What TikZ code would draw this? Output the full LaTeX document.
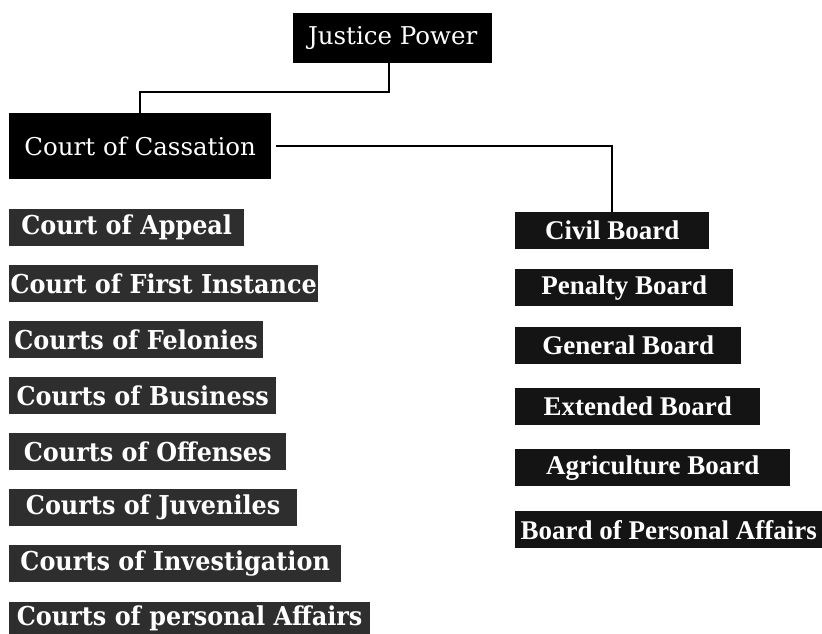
\documentclass[tikz,border=0pt]{standalone}
\usepackage{fontspec}
\newfontfamily\topfont{DejaVu Serif}
\newfontfamily\leftfont[FakeStretch=0.92]{DejaVu Serif Bold}
\newfontfamily\rightfont{Liberation Serif Bold}
\begin{document}
\begin{tikzpicture}[x=1pt,y=-1pt,
  box/.style={anchor=north west,inner sep=0pt,text=white},
  topbox/.style={box,fill=black,font=\topfont\fontsize{24.5}{27}\selectfont},
  lbox/.style={box,fill=black!82,font=\leftfont\fontsize{26}{28}\selectfont,minimum height=37pt},
  rbox/.style={box,fill=black!92,font=\rightfont\fontsize{27}{29}\selectfont,minimum height=37pt},
  conn/.style={line width=1.8pt}]
\useasboundingbox (0,0) rectangle (822,634);
\node[topbox,minimum width=199pt,minimum height=50pt] (jp) at (293,13) {Justice Power};
\node[topbox,minimum width=262pt,minimum height=66pt] (cc) at (9,113) {Court of Cassation};
\node[lbox,minimum width=235pt] (ca)  at (9,209) {Court of Appeal};
\node[lbox,minimum width=309pt] (cfi) at (9,265) {Court of First Instance};
\node[lbox,minimum width=254pt] (cfe) at (9,321) {Courts of Felonies};
\node[lbox,minimum width=267pt] (cbu) at (9,377) {Courts of Business};
\node[lbox,minimum width=277pt] (cof) at (9,433) {Courts of Offenses};
\node[lbox,minimum width=288pt] (cju) at (9,489) {Courts of Juveniles};
\node[lbox,minimum width=332pt] (cin) at (9,545) {Courts of Investigation};
\node[lbox,minimum width=361pt,minimum height=32pt] (cpa) at (9,602) {Courts of personal Affairs};
\node[rbox,minimum width=194pt] (civ) at (515,212) {Civil Board};
\node[rbox,minimum width=218pt] (pen) at (515,269) {Penalty Board};
\node[rbox,minimum width=226pt] (gen) at (515,327) {General Board};
\node[rbox,minimum width=245pt] (ext) at (515,388) {Extended Board};
\node[rbox,minimum width=275pt] (agr) at (515,449) {Agriculture Board};
\node[rbox,minimum width=307pt] (bpa) at (515,511) {Board of Personal Affairs};
\coordinate (mid) at (0,92);
\draw[conn] ([xshift=-4pt]jp.south) -- ([xshift=-4pt]jp.south |- mid) -| (cc.north);
\draw[conn] ([xshift=5pt]cc.east) -| (civ.north);
\end{tikzpicture}
\end{document}
